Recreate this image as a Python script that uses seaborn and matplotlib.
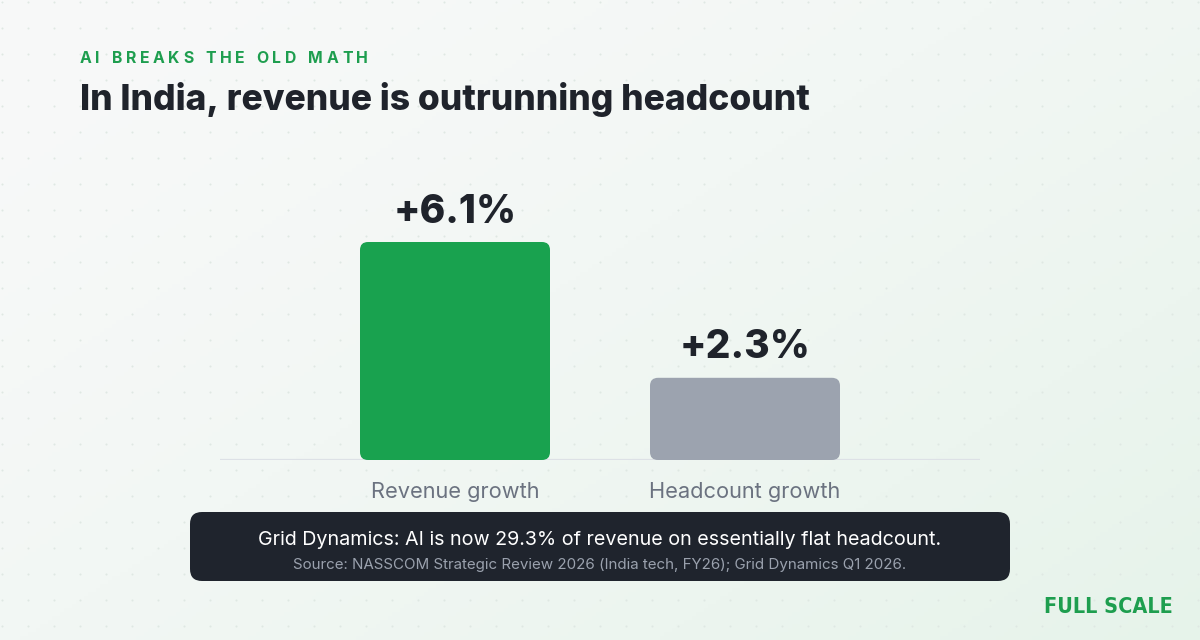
import numpy as np
import pandas as pd
import matplotlib
matplotlib.use("Agg")
import matplotlib.pyplot as plt
import seaborn as sns
from matplotlib.patches import FancyBboxPatch

# ---------------- data ----------------
categories = ["Revenue growth", "Headcount growth"]
values = [6.1, 2.3]
value_labels = ["+6.1%", "+2.3%"]
bar_colors = ["#19a24f", "#9ca3af"]

kicker = "AI BREAKS THE OLD MATH"
title = "In India, revenue is outrunning headcount"
note_main = "Grid Dynamics: AI is now 29.3% of revenue on essentially flat headcount."
note_source = "Source: NASSCOM Strategic Review 2026 (India tech, FY26); Grid Dynamics Q1 2026."
brand = "FULL SCALE"

sns.set_theme(style="white")
plt.rcParams["font.family"] = ["Inter", "DejaVu Sans"]

W, H = 1200, 640
fig = plt.figure(figsize=(W / 100, H / 100), dpi=100)

# ---------- background (pixel coordinates) ----------
bg = fig.add_axes([0, 0, 1, 1], zorder=0)
bg.set_xlim(0, W)
bg.set_ylim(H, 0)
bg.axis("off")
yy, xx = np.mgrid[0:H:4, 0:W:4]
t = np.clip((xx / W) * 0.55 + (yy / H) * 0.45, 0, 1) ** 1.4
c0 = np.array([0xf8, 0xf9, 0xf9]) / 255
c1 = np.array([0xe6, 0xf3, 0xea]) / 255
img = c0[None, None, :] * (1 - t[..., None]) + c1[None, None, :] * t[..., None]
bg.imshow(img, extent=[0, W, H, 0], aspect="auto", zorder=0)
gx, gy = np.meshgrid(np.arange(1.5, W, 26), np.arange(1.5, H, 26))
bg.scatter(gx.ravel(), gy.ravel(), s=2.2, color="#dfe8e3", linewidths=0, zorder=1)

# kicker with letter spacing
renderer = fig.canvas.get_renderer()
kfont = dict(fontsize=11.4, fontweight="bold", color="#1e9e4f", va="baseline", ha="left")
widths = []
for ch in kicker:
    if ch == " ":
        widths.append(4.5)
    else:
        tt = bg.text(0, 0, ch, **kfont)
        widths.append(tt.get_window_extent(renderer).width)
        tt.remove()
gap = (288 - sum(widths)) / (len(kicker) - 1)
x = 80
for ch, w in zip(kicker, widths):
    if ch != " ":
        bg.text(x, 63, ch, zorder=3, **kfont)
    x += w + gap

bg.text(80, 110, title, fontsize=25.5, fontweight="heavy", color="#1f232b",
        va="baseline", ha="left", zorder=3)

# caption box
bg.add_patch(FancyBboxPatch((190, 512), 820, 69,
                            boxstyle="round,pad=0,rounding_size=12",
                            fc="#1f242d", ec="none", zorder=3))
bg.text(600, 545, note_main, fontsize=14.2, color="white", ha="center",
        va="baseline", zorder=4)
bg.text(600, 569, note_source, fontsize=10.9, color="#9aa1ad", ha="center",
        va="baseline", zorder=4)

bg.text(1173, 613, brand, fontsize=15.5, fontweight="bold", color="#1e9e4f",
        ha="right", va="baseline", zorder=4, family="DejaVu Sans",
        fontstretch="condensed")

# ---------------- main chart ----------------
ax = fig.add_axes([220 / W, (H - 460) / H, 760 / W, 280 / H], zorder=2)
ax.patch.set_alpha(0)
df = pd.DataFrame({"category": categories, "value": values})
sns.barplot(data=df, x="category", y="value", hue="category",
            palette=bar_colors, width=190 / 290, legend=False, ax=ax,
            saturation=1)
xpad = 235 / 290
ax.set_xlim(-xpad, 1 + xpad)
ytop = 280 / (218 / 6.1)
ax.set_ylim(0, ytop)

# rounded bars
px_x = 760 / (1 + 2 * xpad)   # px per x unit
px_y = 280 / ytop             # px per y unit
for p in list(ax.patches):
    x0, y0 = p.get_x(), p.get_y()
    w, h = p.get_width(), p.get_height()
    fc = p.get_facecolor()
    p.remove()
    ax.add_patch(FancyBboxPatch((x0, y0), w, h,
                                boxstyle=f"round,pad=0,rounding_size={8 / px_x}",
                                mutation_aspect=px_x / px_y,
                                fc=fc, ec="none", zorder=2))

for i, (v, lab) in enumerate(zip(values, value_labels)):
    ax.annotate(lab, (i, v), xytext=(0, 14), textcoords="offset points",
                ha="center", va="baseline", fontsize=28, fontweight="heavy",
                color="#1f232b")

ax.axhline(0, color="#dde1e6", lw=1.6, zorder=1)
for s in ax.spines.values():
    s.set_visible(False)
ax.set_yticks([])
ax.set_xlabel("")
ax.set_ylabel("")
ax.tick_params(axis="x", length=0, pad=16, labelsize=15.7, labelcolor="#6b7280")

fig.savefig("out.png", dpi=100)
